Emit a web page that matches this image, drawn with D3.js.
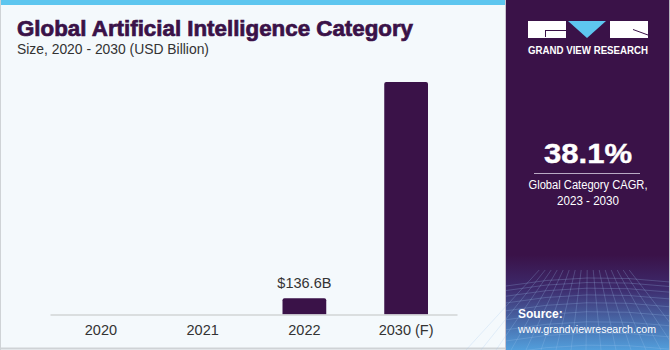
<!DOCTYPE html>
<html>
<head>
<meta charset="utf-8">
<script src="https://cdn.jsdelivr.net/npm/d3@7"></script>
<style>
	html, body { margin: 0; padding: 0; background: #f4f9fc; }
	svg { display: block; }
	text { font-family: "Liberation Sans", Arial, sans-serif; }
</style>
</head>
<body>
<div id="chart"></div>
<script>
// chart data
const categories = ['2020', '2021', '2022', '2030 (F)'];
const values = [0, 0, 136.6, 1945];
const valueLabels = ['', '', '$136.6B', ''];

const cagrValue = '38.1%';
const cagrLines = ['Global Category CAGR,', '2023 - 2030'];

(function() {
	const W = 670, H = 350;
	const purple = '#3a1248';

	const svg = d3.select('#chart').append('svg')
		.attr('width', W)
		.attr('height', H);

	const defs = svg.append('defs');
	const grad = defs.append('linearGradient')
		.attr('id', 'srcGrad')
		.attr('x1', 0).attr('y1', 0).attr('x2', 0).attr('y2', 1);
	grad.append('stop').attr('offset', '0%').attr('stop-color', purple);
	grad.append('stop').attr('offset', '35%').attr('stop-color', '#3d2a6c');
	grad.append('stop').attr('offset', '100%').attr('stop-color', '#529fdc');

	// background + borders
	svg.append('rect').attr('width', W).attr('height', H).attr('fill', '#f4f9fc');
	svg.append('rect').attr('x', 0).attr('y', 0).attr('width', 506).attr('height', 5).attr('fill', '#5ec6ef');
	svg.append('line').attr('x1', 0.5).attr('x2', 0.5).attr('y1', 0).attr('y2', H).attr('stroke', '#cfd3d6');
	svg.append('line').attr('x1', 0).attr('x2', 506).attr('y1', 348.5).attr('y2', 348.5).attr('stroke', '#cfd3d6').attr('stroke-width', 2);

	// title
	svg.append('text')
		.attr('x', 17).attr('y', 36)
		.attr('font-size', 22).attr('font-weight', 900)
		.attr('fill', purple)
		.attr('stroke', purple).attr('stroke-width', 0.7)
		.attr('textLength', 396).attr('lengthAdjust', 'spacingAndGlyphs')
		.text('Global Artificial Intelligence Category');
	svg.append('text')
		.attr('x', 17).attr('y', 54)
		.attr('font-size', 14)
		.attr('fill', '#333')
		.attr('textLength', 192).attr('lengthAdjust', 'spacingAndGlyphs')
		.text('Size, 2020 - 2030 (USD Billion)');

	// bar chart
	const baseY = 314.5;
	const x = d3.scaleBand()
		.domain(categories)
		.range([50, 457])
		.paddingInner(0.57)
		.paddingOuter(0.285);
	const y = d3.scaleLinear()
		.domain([0, d3.max(values)])
		.range([baseY, 82]);

	const r = 2;
	svg.append('g').selectAll('path')
		.data(values)
		.enter().append('path')
		.attr('d', (d, i) => {
			if (!d) return '';
			const x0 = x(categories[i]), x1 = x0 + x.bandwidth();
			const t = y(d);
			return `M${x0},${baseY}V${t + r}Q${x0},${t} ${x0 + r},${t}H${x1 - r}Q${x1},${t} ${x1},${t + r}V${baseY}Z`;
		})
		.attr('fill', purple);

	const axis = svg.append('g')
		.attr('transform', `translate(0,${baseY})`)
		.call(d3.axisBottom(x).tickSize(0).tickPadding(10));
	axis.select('.domain').attr('stroke', '#d2d4d6').attr('stroke-width', 1.5);
	axis.selectAll('text')
		.attr('font-size', 14.5)
		.attr('fill', '#333')
		.attr('font-family', '"Liberation Sans", Arial, sans-serif');

	svg.append('g').selectAll('text')
		.data(values)
		.enter().append('text')
		.attr('x', (d, i) => x(categories[i]) + x.bandwidth() / 2)
		.attr('y', d => y(d) - 10)
		.attr('text-anchor', 'middle')
		.attr('font-size', 14.5)
		.attr('fill', '#333')
		.text((d, i) => valueLabels[i]);

	// right panel
	const px = 506;
	const panel = svg.append('g');
	panel.append('rect').attr('x', px - 1).attr('y', 0).attr('width', 1).attr('height', H).attr('fill', '#c9c3cf');
	panel.append('rect').attr('x', px).attr('y', 0).attr('width', W - px).attr('height', H).attr('fill', purple);
	panel.append('rect').attr('x', px).attr('y', 255).attr('width', W - px).attr('height', H - 255).attr('fill', 'url(#srcGrad)');
	panel.append('rect').attr('x', W - 1).attr('y', 0).attr('width', 1).attr('height', H).attr('fill', '#b9b4be');

	// wire mesh in source area
	const mesh = panel.append('g').attr('stroke', '#9fc6ee').attr('stroke-opacity', 0.35).attr('stroke-width', 0.7).attr('fill', 'none');
	d3.range(0, 12).forEach(k => {
		const yy = 280 + k * k * 0.55 + k * 4;
		mesh.append('path').attr('d', `M${px},${yy + 6}Q${px + 80},${yy - 8} ${W},${yy + 2}`);
	});
	d3.range(0, 16).forEach(k => {
		const xx = px - 40 + k * 15;
		mesh.append('line').attr('x1', 588 + (xx - 588) * 0.4).attr('y1', 270).attr('x2', xx).attr('y2', H);
	});

	// logo
	const logo = panel.append('g');
	logo.append('rect').attr('x', 528).attr('y', 21).attr('width', 38).attr('height', 17).attr('fill', '#fff');
	logo.append('path').attr('d', 'M545,30.5H566M545.5,30V37').attr('stroke', purple).attr('stroke-width', 1);
	logo.append('path').attr('d', 'M568,21H606L587,38Z').attr('fill', '#5ec6ef');
	logo.append('rect').attr('x', 610).attr('y', 21).attr('width', 38).attr('height', 17).attr('fill', '#fff');
	logo.append('path').attr('d', 'M633,29.5L648,35').attr('stroke', purple).attr('stroke-width', 1);
	logo.append('text')
		.attr('x', 588).attr('y', 53.5)
		.attr('text-anchor', 'middle')
		.attr('font-size', 10).attr('font-weight', 'bold')
		.attr('fill', '#fff')
		.attr('textLength', 120).attr('lengthAdjust', 'spacingAndGlyphs')
		.text('GRAND VIEW RESEARCH');

	// CAGR
	panel.append('text')
		.attr('x', 588).attr('y', 163)
		.attr('text-anchor', 'middle')
		.attr('font-size', 27).attr('font-weight', 'bold')
		.attr('fill', '#fff')
		.attr('stroke', '#fff').attr('stroke-width', 0.4)
		.attr('textLength', 88).attr('lengthAdjust', 'spacingAndGlyphs')
		.text(cagrValue);
	panel.append('line')
		.attr('x1', 534).attr('x2', 640).attr('y1', 173.5).attr('y2', 173.5)
		.attr('stroke', '#b9a9c4').attr('stroke-width', 1);
	const cagrWidths = [119, 62];
	panel.selectAll('.cagr')
		.data(cagrLines)
		.enter().append('text')
		.attr('x', 588)
		.attr('y', (d, i) => 189 + i * 15.5)
		.attr('text-anchor', 'middle')
		.attr('font-size', 12.5)
		.attr('fill', '#fff')
		.attr('textLength', (d, i) => cagrWidths[i]).attr('lengthAdjust', 'spacingAndGlyphs')
		.text(d => d);

	// source
	panel.append('text')
		.attr('x', 518).attr('y', 318)
		.attr('font-size', 12).attr('font-weight', 'bold')
		.attr('fill', '#fff')
		.text('Source:');
	panel.append('text')
		.attr('x', 518).attr('y', 332.5)
		.attr('font-size', 11)
		.attr('fill', '#fff')
		.attr('textLength', 138).attr('lengthAdjust', 'spacingAndGlyphs')
		.text('www.grandviewresearch.com');
}());
</script>
</body>
</html>
